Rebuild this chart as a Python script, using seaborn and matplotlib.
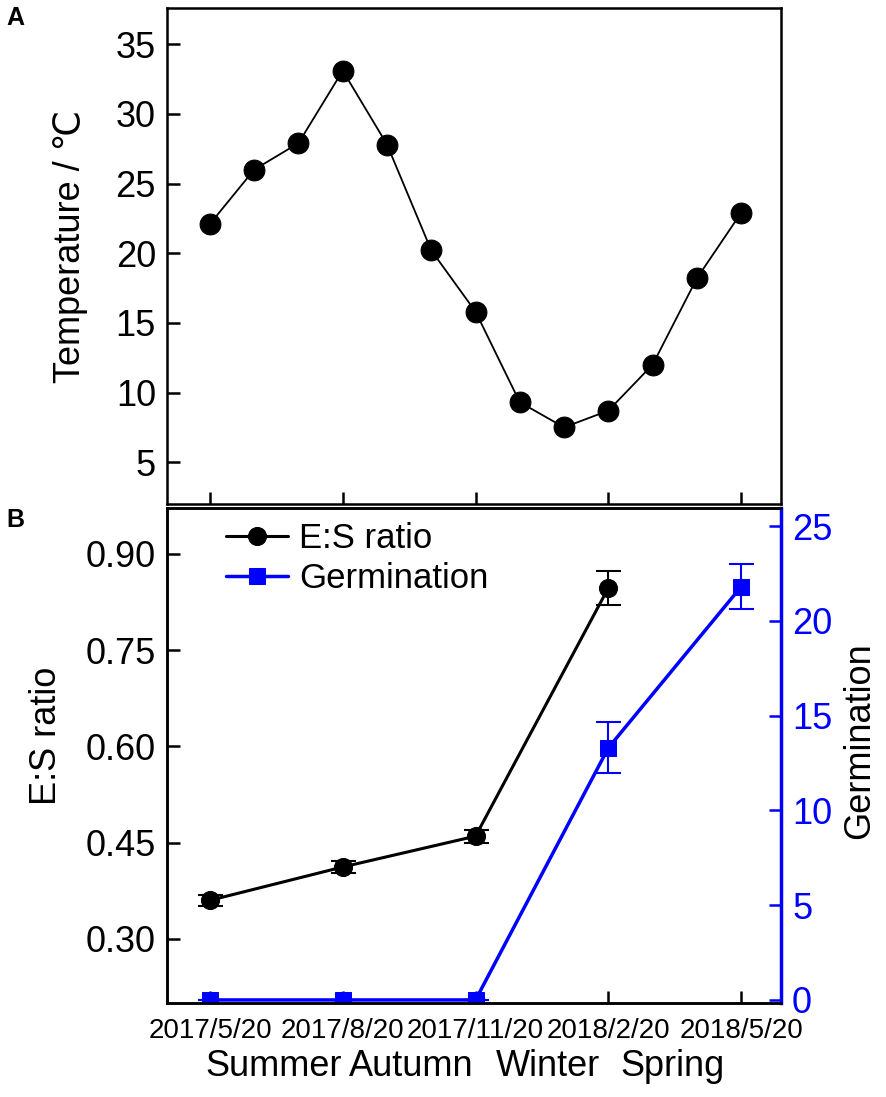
import numpy as np
import pandas as pd
import matplotlib
matplotlib.use("Agg")
import matplotlib.pyplot as plt
import seaborn as sns

# monthly mean temperature, 2017/5/20 .. 2018/5/20
month_idx = list(range(13))
temperature = [22.1, 26.0, 27.9, 33.1, 27.8, 20.2, 15.8, 9.3, 7.5, 8.7, 12.0, 18.2, 22.9]

# sampling dates (every 3 months)
date_idx = [0, 3, 6, 9, 12]
date_labels = ["2017/5/20", "2017/8/20", "2017/11/20", "2018/2/20", "2018/5/20"]
seasons = ["Summer", "Autumn", "Winter", "Spring"]

es_ratio = [0.36, 0.412, 0.46, 0.847]
es_err = [0.009, 0.010, 0.010, 0.026]
germination = [0.0, 0.0, 0.0, 13.3, 21.8]
germ_err = [0.0, 0.0, 0.0, 1.35, 1.2]

sns.set_theme(style="ticks")
plt.rcParams['font.family'] = ['Liberation Sans', 'DejaVu Sans']
plt.rcParams['axes.linewidth'] = 1.8
for k in ['text.color', 'axes.labelcolor', 'xtick.color', 'ytick.color', 'axes.edgecolor']:
    plt.rcParams[k] = 'black'
blue = "#0000FF"

fig = plt.figure(figsize=(8.86, 10.97), dpi=100)
ax1 = fig.add_axes([0.1885, 0.5406, 0.6930, 0.4521])
ax = fig.add_axes([0.1885, 0.0857, 0.6930, 0.4512])

# --- panel A ---
df_t = pd.DataFrame({"month": month_idx, "temp": temperature})
sns.lineplot(data=df_t, x="month", y="temp", ax=ax1, color="black", linewidth=1.3,
             marker="o", markersize=15, markeredgecolor="black")
ax1.set_xlim(-0.97, 12.9)
ax1.set_ylim(2.0, 37.6)
ax1.set_yticks([5, 10, 15, 20, 25, 30, 35])
ax1.set_xticks(date_idx)
ax1.set_xticklabels([])
ax1.set_xlabel("")
ax1.set_ylabel("Temperature / ℃", fontsize=26)
ax1.yaxis.set_label_coords(-0.128, 0.52)
ax1.tick_params(axis="both", direction="in", length=9, width=1.8, labelsize=26, pad=8)

# --- panel B ---
df_es = pd.DataFrame({"x": date_idx[:4], "es": es_ratio})
sns.lineplot(data=df_es, x="x", y="es", ax=ax, color="black", linewidth=2.2,
             marker="o", markersize=13, markeredgecolor="black", label="E:S ratio",
             legend=False)
ax.errorbar(date_idx[:4], es_ratio, yerr=es_err, fmt="none", ecolor="black",
            elinewidth=1.5, capsize=9, capthick=1.5)
ax.set_xlim(-0.97, 12.9)
ax.set_ylim(0.2, 0.9715)
ax.set_yticks([0.30, 0.45, 0.60, 0.75, 0.90])
ax.set_yticklabels([f"{v:.2f}" for v in [0.30, 0.45, 0.60, 0.75, 0.90]])
ax.set_xticks(date_idx)
ax.set_xticklabels(date_labels, family=['Liberation Sans Narrow', 'Liberation Sans'])
ax.set_xlabel("")
ax.set_ylabel("E:S ratio", fontsize=26)
ax.yaxis.set_label_coords(-0.168, 0.54)
ax.tick_params(axis="both", direction="in", length=9, width=1.8, labelsize=26, pad=8)
ax.tick_params(axis="x", pad=11, labelsize=20)

ax2 = ax.twinx()
df_g = pd.DataFrame({"x": date_idx, "g": germination})
sns.lineplot(data=df_g, x="x", y="g", ax=ax2, color=blue, linewidth=2.5,
             marker="s", markersize=11, markeredgecolor=blue, label="Germination",
             legend=False)
ax2.errorbar(date_idx, germination, yerr=germ_err, fmt="none", ecolor=blue,
             elinewidth=1.5, capsize=9, capthick=1.5)
ax2.set_ylim(-0.16, 25.95)
ax2.set_yticks([0, 5, 10, 15, 20, 25])
ax2.set_ylabel("Germination", fontsize=26)
ax2.yaxis.set_label_coords(1.10, 0.53)
ax2.tick_params(axis="y", direction="in", length=9, width=1.8, labelsize=26,
                colors=blue, pad=8)
ax2.spines["right"].set_color(blue)
ax2.spines["right"].set_linewidth(2.5)

h1, l1 = ax.get_legend_handles_labels()
h2, l2 = ax2.get_legend_handles_labels()
ax2.legend(h1 + h2, l1 + l2, loc="upper left", bbox_to_anchor=(0.045, 1.035),
           frameon=False, fontsize=25, handlelength=1.8, handletextpad=0.3,
           labelspacing=0.2)

# season names under the dates
season_x = [274, 411, 548, 672]
for name, px in zip(seasons, season_x):
    fig.text(px / 886, 1 - 1066 / 1097, name, ha="center", va="center", fontsize=26)

fig.text(15 / 886, 1 - 18 / 1097, "A", ha="center", va="center", fontsize=18,
         fontweight="bold")
fig.text(15 / 886, 1 - 520 / 1097, "B", ha="center", va="center", fontsize=18,
         fontweight="bold")

fig.savefig("out.png", dpi=100)
